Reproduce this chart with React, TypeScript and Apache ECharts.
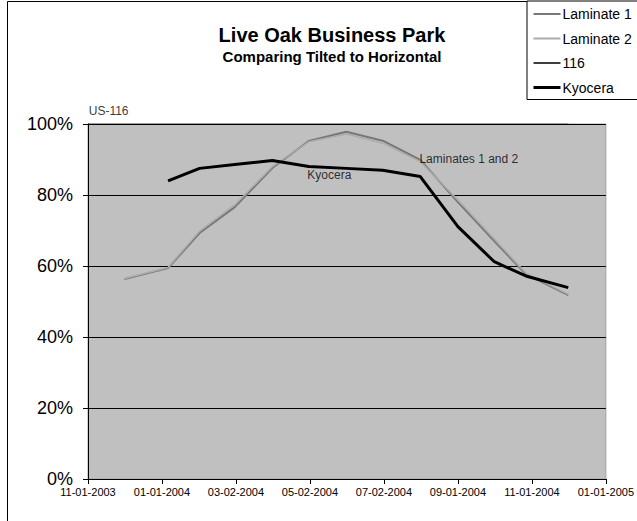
import React, { useEffect, useRef } from "react";
import * as echarts from "echarts";

// ---- data ----
const readDates = [
  "2003-12-01", "2004-01-06", "2004-02-01", "2004-03-01", "2004-04-01",
  "2004-05-01", "2004-06-01", "2004-07-01", "2004-08-01", "2004-09-01",
  "2004-10-01", "2004-10-27", "2004-12-01",
];
const laminate1 = [56.3, 59.4, 69.3, 76.6, 87.6, 95.2, 97.8, 95.3, 89.9, 78.0, 67.0, 57.7, 51.8];
const laminate2 = [56.5, 59.6, 69.8, 77.2, 88.0, 95.0, 97.2, 94.6, 89.4, 78.6, 67.6, 58.0, 52.0];
const kyocera = [null, 84.0, 87.5, 88.6, 89.7, 88.0, 87.5, 87.0, 85.2, 71.1, 61.2, 57.2, 53.9];
const us116Dates = ["2003-11-01", "2004-12-01"];
const us116 = [100, 100];

const seriesNames = ["Laminate 1", "Laminate 2", "116", "Kyocera"];
const yTicks = [0, 20, 40, 60, 80, 100];

const annotationTexts = ["US-116", "Kyocera", "Laminates 1 and 2"];
const annotationDates = ["2003-11-18", "2004-05-18", "2004-09-10"];
const annotationValues = [103.7, 85.6, 90.1];

const AXIS_START = "2003-11-01";
const AXIS_END = "2005-01-01";
const TICK_DAYS = 61;

const FONT = "'Liberation Sans', Arial, sans-serif";

const colors = ["#777777", "#ababab", "#000000", "#000000"];
const widths = [2, 1.5, 1, 3];
const legendWidths = [2, 2, 1.5, 3];

function utc(s: string) {
  const [y, m, d] = s.split("-").map(Number);
  return Date.UTC(y, m - 1, d);
}
const BASE = utc(AXIS_START);
const toDay = (s: string) => Math.round((utc(s) - BASE) / 86400000);
const pad = (n: number) => (n < 10 ? "0" + n : "" + n);
const fmtDay = (v: number) => {
  const dt = new Date(BASE + v * 86400000);
  return `${pad(dt.getUTCMonth() + 1)}-${pad(dt.getUTCDate())}-${dt.getUTCFullYear()}`;
};

function pairs(dates: string[], vals: (number | null)[]) {
  const out: [number, number][] = [];
  dates.forEach((d, i) => {
    const v = vals[i];
    if (v !== null && v !== undefined) out.push([toDay(d), v]);
  });
  return out;
}

export default function App() {
  const ref = useRef<HTMLDivElement>(null);
  useEffect(() => {
    if (!ref.current) return;
    const chart = echarts.init(ref.current, undefined, { renderer: "svg" });
    const seriesData = [
      pairs(readDates, laminate1),
      pairs(readDates, laminate2),
      pairs(us116Dates, us116),
      pairs(readDates, kyocera),
    ];
    const option: any = {
      animation: false,
      backgroundColor: "#ffffff",
      textStyle: { fontFamily: FONT },
      title: {
        text: "Live Oak Business Park",
        subtext: "Comparing Tilted to Horizontal",
        left: 327,
        top: 20,
        textAlign: "center",
        itemGap: 4,
        textStyle: { fontFamily: FONT, fontSize: 20, fontWeight: "bold", color: "#000" },
        subtextStyle: { fontFamily: FONT, fontSize: 15, fontWeight: "bold", color: "#000" },
      },
      legend: {
        orient: "vertical",
        left: 527,
        top: 1,
        padding: [6, 10, 5, 5],
        itemWidth: 27,
        itemHeight: 14,
        itemGap: 10.5,
        borderColor: "#000",
        borderWidth: 1,
        backgroundColor: "#fff",
        data: seriesNames.map((n, i) => ({
          name: n,
          lineStyle: { width: legendWidths[i], color: colors[i] },
        })),
        itemStyle: { opacity: 0 },
        textStyle: { fontFamily: FONT, fontSize: 14, color: "#000", padding: [0, 0, 0, -3] },
      },
      graphic: [
        {
          type: "rect",
          shape: { x: 7.5, y: 1.5, width: 700, height: 600 },
          style: { fill: "none", stroke: "#000", lineWidth: 1 },
          silent: true,
          z: -1,
        },
      ],
      grid: {
        left: 88,
        right: 27,
        top: 124,
        bottom: 42,
        show: true,
        backgroundColor: "#c0c0c0",
        borderColor: "#a0a0a0",
        borderWidth: 1,
      },
      xAxis: {
        type: "value",
        min: toDay(AXIS_START),
        max: toDay(AXIS_END),
        interval: TICK_DAYS,
        splitLine: { show: false },
        axisLine: { show: true, lineStyle: { color: "#000", width: 1 } },
        axisTick: { show: true, inside: false, length: 5, lineStyle: { color: "#000" } },
        axisLabel: {
          formatter: (v: number) => fmtDay(v),
          fontFamily: FONT,
          fontSize: 11,
          color: "#000",
          margin: 7,
          showMaxLabel: true,
          showMinLabel: true,
        },
      },
      yAxis: {
        type: "value",
        min: yTicks[0],
        max: yTicks[yTicks.length - 1],
        interval: 20,
        axisLine: { show: true, lineStyle: { color: "#000", width: 1 } },
        axisTick: { show: true, inside: false, length: 5, lineStyle: { color: "#000" } },
        splitLine: { show: true, lineStyle: { color: "#000", width: 1 } },
        axisLabel: {
          formatter: "{value}%",
          fontFamily: FONT,
          fontSize: 18,
          color: "#000",
          margin: 15,
        },
      },
      series: [
        ...seriesNames.map((n, i) => ({
          name: n,
          type: "line",
          data: seriesData[i],
          symbol: "none",
          lineStyle: { color: colors[i], width: widths[i] },
          itemStyle: { color: colors[i] },
          z: 2 + i,
        })),
        {
          name: "annotations",
          type: "scatter",
          clip: false,
          symbolSize: 1,
          itemStyle: { color: "rgba(0,0,0,0)" },
          silent: true,
          z: 6,
          data: annotationTexts.map((t, i) => ({
            name: t,
            value: [toDay(annotationDates[i]), annotationValues[i]],
            label: { fontSize: 12, color: "#000" },
          })),
          label: {
            show: true,
            position: "inside",
            formatter: "{b}",
            fontFamily: FONT,
            color: "#000",
          },
        },
      ],
    };
    chart.setOption(option);
    return () => chart.dispose();
  }, []);
  return (
    <div
      ref={ref}
      style={{ position: "fixed", left: 0, top: 0, width: 637, height: 521 }}
    />
  );
}
